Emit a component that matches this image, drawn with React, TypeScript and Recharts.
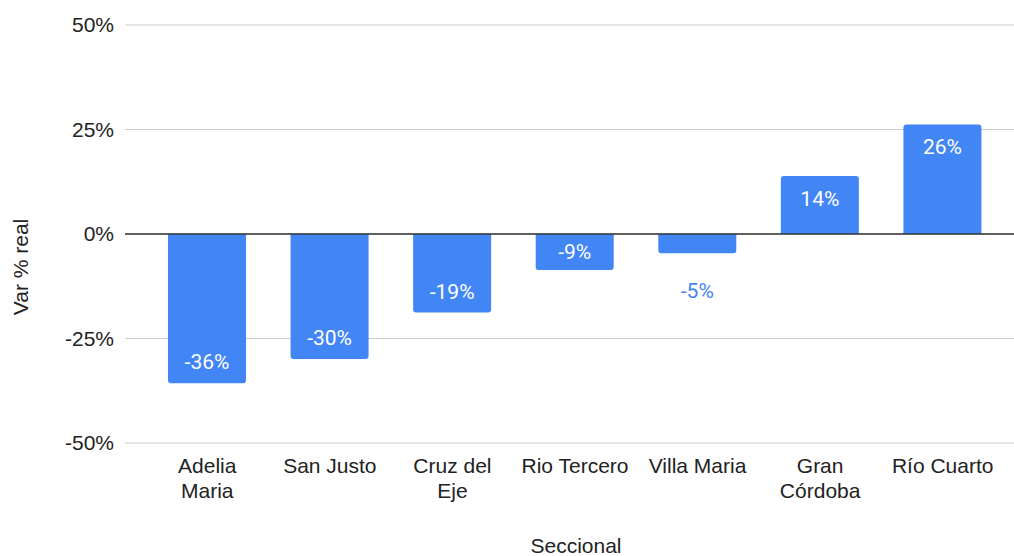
import { Bar, BarChart, CartesianGrid, Cell, LabelList, ReferenceLine, XAxis, YAxis } from "recharts";

const categories = ["Adelia Maria", "San Justo", "Cruz del Eje", "Rio Tercero", "Villa Maria", "Gran Córdoba", "Río Cuarto"];
const tickLines = [["Adelia", "Maria"], ["San Justo"], ["Cruz del", "Eje"], ["Rio Tercero"], ["Villa Maria"], ["Gran", "Córdoba"], ["Río Cuarto"]];
const varReal = [-35.7, -29.9, -18.8, -8.6, -4.6, 13.9, 26.2];
const yTicks = [-50, -25, 0, 25, 50];

const data = categories.map((name, i) => ({ name, value: varReal[i] }));

const BLUE = "#4285f4";
const axisFont = "'Liberation Sans', Arial, sans-serif";
const FS = 21;

function CategoryTick(props: any) {
  const { x, y, payload, index } = props;
  const lines = tickLines[index] ?? [payload.value];
  return (
    <text x={x} y={y} textAnchor="middle" fill="#222" fontSize={FS} fontFamily={axisFont}>
      {lines.map((l: string, i: number) => (
        <tspan key={i} x={x} dy={i === 0 ? 22 : 25}>
          {l}
        </tspan>
      ))}
    </text>
  );
}

function BarValueLabel(props: any) {
  const { x, y, width, height, value } = props;
  const top = Math.min(y, y + height);
  const bottom = Math.max(y, y + height);
  const h = bottom - top;
  const cx = x + width / 2;
  const text = `${Math.round(value)}%`;
  let cy: number;
  let fill = "#fff";
  if (h < 28) {
    fill = BLUE;
    cy = value < 0 ? bottom + 38 : top - 38;
  } else {
    const off = Math.min(21, h / 2);
    cy = value < 0 ? bottom - off : top + off + 2;
  }
  return (
    <text x={cx} y={cy} textAnchor="middle" dominantBaseline="central" fill={fill} fontSize={FS} fontFamily="Roboto, sans-serif">
      {text}
    </text>
  );
}

export default function App() {
  return (
    <div style={{ position: "absolute", left: 0, top: 0, background: "#fff" }}>
      <BarChart width={1014} height={556} data={data} margin={{ top: 25, right: 0, left: 0, bottom: 0 }}>
        <CartesianGrid vertical={false} stroke="#cccccc" />
        <XAxis
          dataKey="name"
          height={113}
          axisLine={false}
          tickLine={false}
          interval={0}
          padding={{ left: 21, right: 10 }}
          tick={<CategoryTick />}
        />
        <YAxis
          width={125}
          domain={[-50, 50]}
          ticks={yTicks}
          axisLine={false}
          tickLine={false}
          tickMargin={5}
          tickFormatter={(v) => `${v}%`}
          tick={{ fill: "#222", fontSize: FS, fontFamily: axisFont }}
        />
        <ReferenceLine y={0} stroke="#333" strokeWidth={1.5} />
        <Bar dataKey="value" barSize={78} fill={BLUE} radius={[3, 3, 0, 0]} isAnimationActive={false}>
          {data.map((d) => (
            <Cell key={d.name} fill={BLUE} />
          ))}
          <LabelList dataKey="value" content={<BarValueLabel />} />
        </Bar>
        <text x={20} y={267} transform="rotate(-90 20 267)" textAnchor="middle" dominantBaseline="central" fill="#222" fontSize={FS} fontFamily={axisFont}>
          Var % real
        </text>
        <text x={576} y={545} textAnchor="middle" dominantBaseline="central" fill="#222" fontSize={FS} fontFamily={axisFont}>
          Seccional
        </text>
      </BarChart>
    </div>
  );
}
